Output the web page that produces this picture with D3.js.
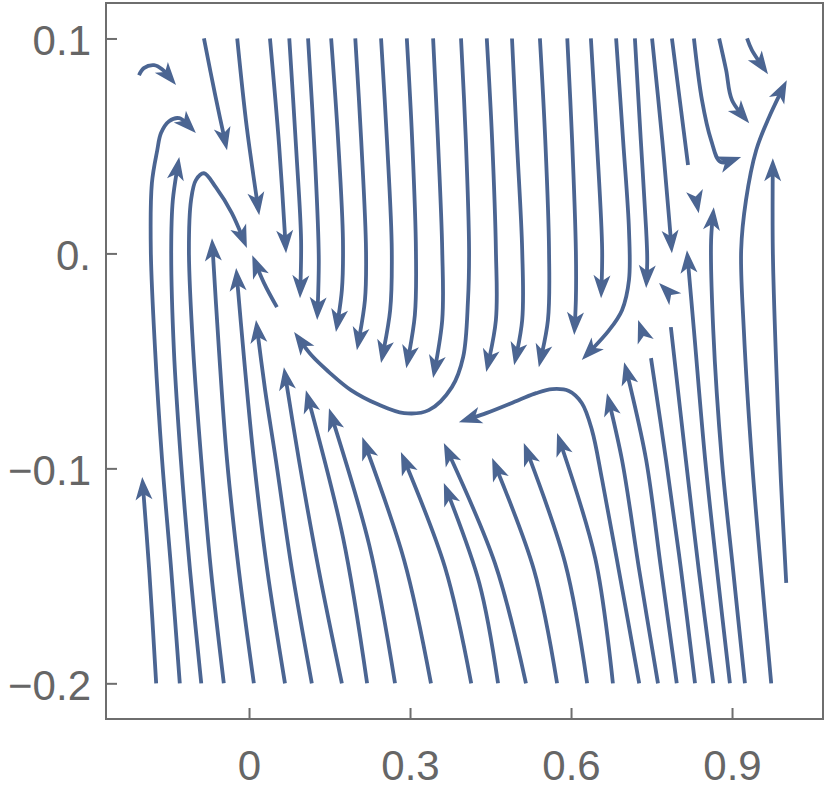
<!DOCTYPE html>
<html>
  <head>
    <meta charset="UTF-8">
    <script src="https://d3js.org/d3.v7.min.js" charset="utf-8"></script>
    <title>stream plot</title>
    <style>
      body { margin: 0; background: #fff; }
      .axis text { font-family: "Liberation Sans", Arial, sans-serif; font-size: 42px; fill: #666; }
      .axis line { stroke: #6e6e6e; stroke-width: 2; }
      .stream { fill: none; stroke: #4b6592; stroke-width: 3.8; }
      .head { fill: #4b6592; }
    </style>
  </head>
  <body>
    <svg class="chart"></svg>
    <script type="text/javascript">

     var width = 830,
         height = 798;

     var xTicks = [0, 0.3, 0.6, 0.9];
     var xTickLabels = ["0", "0.3", "0.6", "0.9"];
     var yTicks = [0.1, 0, -0.1, -0.2];
     var yTickLabels = ["0.1", "0.", "\u22120.1", "\u22120.2"];

     // streamlines entering at the top edge (x, y), arrow at the end
     var downLines = [
         [[-0.084,0.1],[-0.063,0.0736],[-0.041,0.048]],
         [[-0.022,0.1],[-0.004,0.0583],[0.019,0.0178]],
         [[0.039,0.1],[0.056,0.0504],[0.069,0.0001]],
         [[0.075,0.1],[0.088,0.0480],[0.097,0.0062],[0.095,-0.0208]],
         [[0.110,0.1],[0.123,0.0434],[0.130,-0.0031],[0.127,-0.0310]],
         [[0.153,0.1],[0.166,0.0527],[0.175,0.0062],[0.173,-0.0171],[0.162,-0.0366]],
         [[0.198,0.1],[0.209,0.0527],[0.218,0.0015],[0.216,-0.0217],[0.201,-0.0450]],
         [[0.246,0.1],[0.257,0.0527],[0.266,0.0015],[0.263,-0.0264],[0.246,-0.0510]],
         [[0.294,0.1],[0.304,0.0527],[0.311,0.0015],[0.309,-0.0287],[0.293,-0.0534]],
         [[0.343,0.1],[0.352,0.0527],[0.360,0.0015],[0.360,-0.0310],[0.343,-0.0580]],
         [[0.395,0.1],[0.404,0.0527],[0.410,0.0015],[0.408,-0.0217],[0.399,-0.0482],[0.378,-0.0622],
          [0.335,-0.0729],[0.289,-0.0743],[0.239,-0.0701],[0.190,-0.0636],[0.149,-0.0552],[0.116,-0.0473],[0.084,-0.0366]],
         [[0.443,0.1],[0.453,0.0527],[0.460,0.0015],[0.460,-0.0310],[0.442,-0.0552]],
         [[0.490,0.1],[0.499,0.0527],[0.509,0.0015],[0.509,-0.0310],[0.494,-0.0520]],
         [[0.542,0.1],[0.552,0.0527],[0.559,0.0015],[0.557,-0.0310],[0.540,-0.0529]],
         [[0.593,0.1],[0.602,0.0527],[0.609,0.0015],[0.609,-0.0217],[0.606,-0.0380]],
         [[0.637,0.1],[0.648,0.0527],[0.658,0.0015],[0.656,-0.0208]],
         [[0.684,0.1],[0.697,0.0527],[0.708,0.0108],[0.708,-0.0124],[0.695,-0.0264],[0.671,-0.0357],[0.620,-0.0496]],
         [[0.719,0.1],[0.730,0.0527],[0.740,0.0108],[0.742,-0.0031],[0.740,-0.0161]],
         [[0.751,0.1],[0.770,0.0527],[0.783,0.0155],[0.788,0.0001]],
         [[0.829,0.1],[0.844,0.0713],[0.861,0.0527],[0.879,0.0425],[0.917,0.0448]],
         [[0.876,0.1],[0.889,0.0853],[0.900,0.0713],[0.932,0.0606]],
         [[0.928,0.1],[0.937,0.0946],[0.967,0.0834]]
     ];

     // streamlines entering at the bottom edge, arrow at the end
     var upLines = [
         [[-0.173,-0.2],[-0.186,-0.1473],[-0.199,-0.1040]],
         [[-0.129,-0.2],[-0.145,-0.1473],[-0.162,-0.0961],[-0.175,-0.0450],[-0.183,0.0015],[-0.181,0.0327],
          [-0.171,0.0480],[-0.164,0.0560],[-0.149,0.0615],[-0.130,0.0629],[-0.099,0.0560]],
         [[-0.089,-0.2],[-0.110,-0.1473],[-0.127,-0.0961],[-0.140,-0.0450],[-0.145,0.0015],[-0.142,0.0248],[-0.130,0.0448]],
         [[-0.047,-0.2],[-0.071,-0.1473],[-0.089,-0.0961],[-0.104,-0.0450],[-0.112,0.0015],[-0.108,0.0248],
          [-0.099,0.0341],[-0.084,0.0373],[-0.062,0.0308],[-0.032,0.0187],[-0.004,0.0025]],
         [[0.009,-0.2],[-0.019,-0.1473],[-0.041,-0.0961],[-0.056,-0.0450],[-0.069,0.0071]],
         [[0.067,-0.2],[0.034,-0.1473],[0.009,-0.0961],[-0.009,-0.0496],[-0.024,-0.0068]],
         [[0.117,-0.2],[0.080,-0.1473],[0.050,-0.0961],[0.030,-0.0636],[0.013,-0.0310]],
         [[0.173,-0.2],[0.130,-0.1473],[0.093,-0.0961],[0.065,-0.0529]],
         [[0.220,-0.2],[0.175,-0.1320],[0.106,-0.0636]],
         [[0.272,-0.2],[0.224,-0.1357],[0.149,-0.0720]],
         [[0.339,-0.2],[0.289,-0.1427],[0.211,-0.0854]],
         [[0.414,-0.2],[0.365,-0.1459],[0.283,-0.0924]],
         [[0.464,-0.2],[0.429,-0.1533],[0.363,-0.1068]],
         [[0.516,-0.2],[0.458,-0.1440],[0.363,-0.0882]],
         [[0.574,-0.2],[0.531,-0.1473],[0.453,-0.0952]],
         [[0.630,-0.2],[0.589,-0.1440],[0.512,-0.0882]],
         [[0.678,-0.2],[0.645,-0.1417],[0.574,-0.0836]],
         [[0.727,-0.2],[0.689,-0.1473],[0.658,-0.1054],[0.639,-0.0822],[0.620,-0.0696],[0.596,-0.0640],
          [0.565,-0.0631],[0.535,-0.0650],[0.503,-0.0682],[0.442,-0.0743],[0.391,-0.0785]],
         [[0.762,-0.2],[0.727,-0.1473],[0.695,-0.0961],[0.667,-0.0650]],
         [[0.797,-0.2],[0.768,-0.1473],[0.740,-0.0961],[0.712,-0.0636],[0.699,-0.0506]],
         [[0.896,-0.2],[0.872,-0.1473],[0.850,-0.0961],[0.829,-0.0357],[0.816,0.0015]],
         [[0.924,-0.2],[0.902,-0.1473],[0.881,-0.0961],[0.865,-0.0357],[0.861,0.0062],[0.866,0.0215]],
         [[0.973,-0.2],[0.954,-0.1473],[0.937,-0.0961],[0.922,-0.0357],[0.917,0.0015],[0.926,0.0248],
          [0.945,0.0480],[0.969,0.0634],[1.002,0.0806]],
         [[1.001,-0.1533],[0.991,-0.1054],[0.982,-0.0496],[0.976,0.0015],[0.976,0.0443]]
     ];

     // short streamlines inside the frame, arrow at the end
     var shortLines = [
         [[-0.205,0.0829],[-0.196,0.0862],[-0.177,0.0876],[-0.162,0.0857],[-0.136,0.0783]],
         [[0.052,-0.0250],[0.028,-0.0138],[0.006,-0.0008]]
     ];

     // streamlines that stop without an arrow
     var plainLines = [
         [[0.788,0.1],[0.805,0.0667],[0.818,0.0411]],
         [[0.831,-0.2],[0.805,-0.1473],[0.777,-0.0961],[0.749,-0.0487]],
         [[0.865,-0.2],[0.838,-0.1473],[0.814,-0.0961],[0.786,-0.0343]]
     ];

     // arrowheads standing alone: [base, tip]
     var loneArrows = [
         [[0.831,0.0280],[0.838,0.0187]],
         [[0.738,-0.0403],[0.725,-0.0310]],
         [[0.792,-0.0208],[0.764,-0.0138]]
     ];

     var x = d3.scaleLinear().domain([-0.2665, 1.0695]).range([106, 823]);
     var y = d3.scaleLinear().domain([-0.2166, 0.1165]).range([719, 3]);

     var chart = d3.select(".chart")
                   .attr("width", width)
                   .attr("height", height);

     var line = d3.line()
                  .x(function(d) { return x(d[0]); })
                  .y(function(d) { return y(d[1]); })
                  .curve(d3.curveCatmullRom.alpha(0.5));

     var headShape = "M0,0 L-23,-8.5 L-17,0 L-23,8.5 Z";
     var streams = chart.append('g');

     function drawHead(px, py, angle) {
         streams.append('path')
                .attr("class", "head")
                .attr("d", headShape)
                .attr("transform", "translate(" + px + "," + py + ") rotate(" + angle + ")");
     }

     var arrowed = downLines.concat(upLines, shortLines);
     arrowed.forEach(function(pts) {
         var p = streams.append('path')
                        .attr("class", "stream")
                        .attr("d", line(pts));
         var len = p.node().getTotalLength();
         var tip = p.node().getPointAtLength(len);
         var back = p.node().getPointAtLength(Math.max(0, len - 16));
         var ang = Math.atan2(tip.y - back.y, tip.x - back.x) * 180 / Math.PI;
         p.attr("stroke-dasharray", Math.max(0, len - 15) + " " + (len + 20));
         drawHead(tip.x, tip.y, ang);
     });

     plainLines.forEach(function(pts) {
         streams.append('path')
                .attr("class", "stream")
                .attr("d", line(pts));
     });

     loneArrows.forEach(function(a) {
         var bx = x(a[0][0]), by = y(a[0][1]);
         var tx = x(a[1][0]), ty = y(a[1][1]);
         drawHead(tx, ty, Math.atan2(ty - by, tx - bx) * 180 / Math.PI);
     });

     // frame and ticks
     chart.append('rect')
          .attr("x", 106).attr("y", 3)
          .attr("width", 717).attr("height", 716)
          .attr("fill", "none")
          .attr("stroke", "#6e6e6e")
          .attr("stroke-width", 2);

     var xAxis = chart.append('g')
                      .attr("class", "axis")
                      .attr("transform", "translate(0,719)")
                      .call(d3.axisBottom(x).tickValues(xTicks)
                              .tickFormat(function(d, i) { return xTickLabels[i]; })
                              .tickSize(-11).tickSizeOuter(0).tickPadding(31));
     xAxis.select(".domain").remove();

     var yAxis = chart.append('g')
                      .attr("class", "axis")
                      .attr("transform", "translate(106,0)")
                      .call(d3.axisLeft(y).tickValues(yTicks)
                              .tickFormat(function(d, i) { return yTickLabels[i]; })
                              .tickSize(-11).tickSizeOuter(0).tickPadding(15));
     yAxis.select(".domain").remove();
     yAxis.selectAll("text").attr("dy", "0.38em");

    </script>
  </body>
</html>
